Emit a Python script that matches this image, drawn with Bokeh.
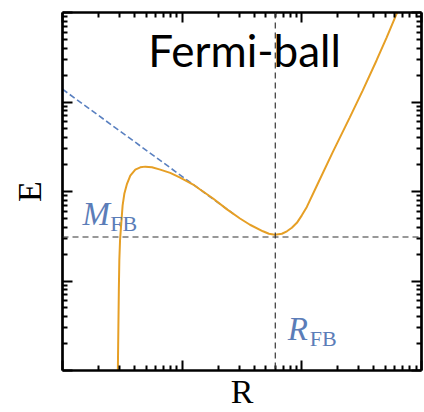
from bokeh.plotting import figure
from bokeh.models import Range1d, LogAxis, FixedTicker, Span, Label
from bokeh.embed import file_html
from bokeh.resources import INLINE

# ---- data (log-log axes) ----
R_curve = [2.884, 2.901, 2.929, 2.957, 2.985, 3.026, 3.102, 3.180, 3.286, 3.460,
           3.687, 4.059, 4.467, 4.917, 5.592, 6.557, 7.943, 9.624, 12.35, 14.13,
           18.13, 23.71, 30.43, 36.87, 47.32, 53.09, 59.57, 68.13, 74.99, 82.54,
           90.88, 100.0, 110.1, 133.4, 181.3, 251.2, 322.3, 421.7, 510.9, 619.1, 655.5]
E_curve = [0.794, 1.0, 2.855, 7.943, 17.11, 28.55, 45.25, 69.89, 94.28, 121.8,
           150.6, 175.6, 186.2, 189.6, 186.2, 175.6, 161.4, 143.0, 119.6, 105.2,
           83.58, 63.1, 49.9, 42.5, 35.94, 33.72, 32.86, 33.72, 35.94, 39.3,
           44.67, 54.12, 67.26, 116.0, 275.0, 669.0, 1340.0, 2930.0, 5250.0, 9650.0, 11500.0]
R_asym = [1.0, 27.0]
E_asym = [1390.0, 55.9]
R_FB = 60.0
M_FB = 31.0

x_major = [1, 10, 100, 1000]
y_major = [1, 10, 100, 1000, 10000]
x_minor = [m * 10 ** k for k in range(0, 3) for m in range(2, 10)]
y_minor = [m * 10 ** k for k in range(0, 4) for m in range(2, 10)]

BLUE = "#5b7db8"
ORANGE = "#e69f25"

p = figure(width=424, height=412, x_axis_type="log", y_axis_type="log",
           x_range=Range1d(1, 1000), y_range=Range1d(1, 1e4),
           output_backend="svg", toolbar_location=None,
           min_border_left=62, min_border_right=3, min_border_top=12, min_border_bottom=41)
p.outline_line_color = None
p.xgrid.visible = False
p.ygrid.visible = False
p.background_fill_color = "white"
p.border_fill_color = "white"

p.add_layout(LogAxis(), "above")
p.add_layout(LogAxis(), "right")

for ax in p.xaxis:
    ax.ticker = FixedTicker(ticks=x_major, minor_ticks=x_minor)
    ax.major_label_overrides = {t: "" for t in x_major}
for ax in p.yaxis:
    ax.ticker = FixedTicker(ticks=y_major, minor_ticks=y_minor)
    ax.major_label_overrides = {t: "" for t in y_major}
for ax in list(p.xaxis) + list(p.yaxis):
    ax.major_tick_in = 10
    ax.major_tick_out = 0
    ax.minor_tick_in = 5
    ax.minor_tick_out = 0
    ax.major_tick_line_width = 2
    ax.minor_tick_line_width = 2
    ax.major_tick_line_color = "black"
    ax.minor_tick_line_color = "black"
    ax.axis_line_width = 2.7
    ax.axis_line_color = "black"
    ax.major_label_text_font_size = "1px"
    ax.major_label_standoff = 0

# axis titles
bx = p.below[0]
bx.axis_label = "R"
bx.axis_label_text_font = "Liberation Serif"
bx.axis_label_text_font_style = "normal"
bx.axis_label_text_font_size = "34px"
bx.axis_label_text_color = "black"
bx.axis_label_standoff = 2

lx = p.left[0]
lx.axis_label = "E"
lx.axis_label_text_font = "Liberation Serif"
lx.axis_label_text_font_style = "normal"
lx.axis_label_text_font_size = "34px"
lx.axis_label_text_color = "black"
lx.axis_label_standoff = 15

# reference lines
p.add_layout(Span(location=M_FB, dimension="width", line_color="#333333",
                  line_width=1.2, line_dash="6 4"))
p.add_layout(Span(location=R_FB, dimension="height", line_color="#333333",
                  line_width=1.2, line_dash="6 4"))

# asymptote and curve
p.line(R_asym, E_asym, line_color="#5a80c0", line_width=1.6, line_dash="6 3")
p.line(R_curve, E_curve, line_color=ORANGE, line_width=2)

# texts
p.add_layout(Label(x=5.21, y=3783, text="Fermi-ball", text_font="Lato",
                   text_font_size="44px", text_color="black", text_baseline="alphabetic"))
p.add_layout(Label(x=1.47, y=55.8, text="M", text_font="Liberation Serif",
                   text_font_style="italic", text_font_size="33px", text_color=BLUE,
                   text_baseline="alphabetic"))
p.add_layout(Label(x=2.51, y=43.9, text="FB", text_font="Liberation Serif",
                   text_font_size="22px", text_color=BLUE, text_baseline="alphabetic"))
p.add_layout(Label(x=76.4, y=2.94, text="R", text_font="Liberation Serif",
                   text_font_style="italic", text_font_size="33px", text_color=BLUE,
                   text_baseline="alphabetic"))
p.add_layout(Label(x=116.6, y=2.256, text="FB", text_font="Liberation Serif",
                   text_font_size="22px", text_color=BLUE, text_baseline="alphabetic"))

open("out.html", "w").write(file_html(p, INLINE))
